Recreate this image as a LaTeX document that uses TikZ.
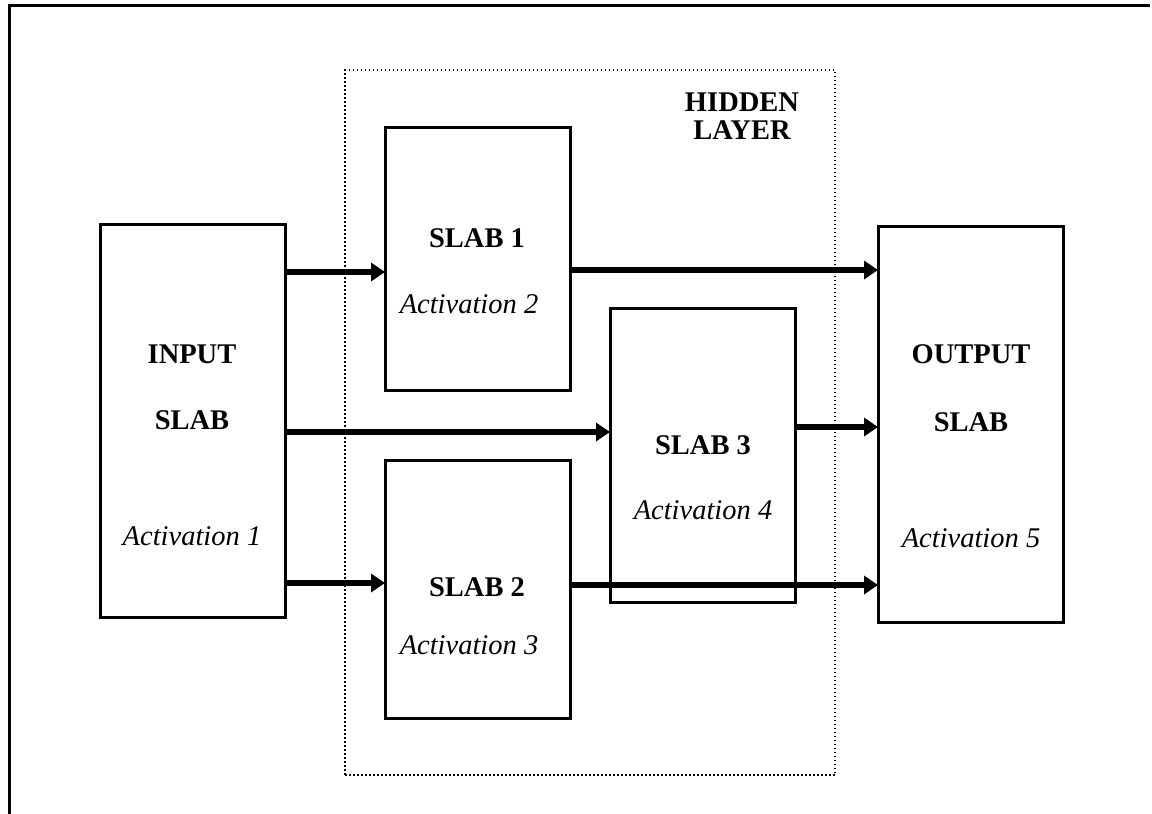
\documentclass[tikz,border=0pt]{standalone}
\usepackage{fontspec}
\setmainfont{Liberation Serif}
\usetikzlibrary{arrows.meta}
\begin{document}
\begin{tikzpicture}[x=1pt,y=-1pt,
  box/.style={draw,line width=3pt,rectangle,inner sep=0pt},
  arr/.style={line width=5.5pt,-{Triangle[length=14pt,width=18pt]},shorten >=-1.5pt},
  lbl/.style={font=\fontsize{28.5}{34}\selectfont\bfseries,inner sep=0pt},
  act/.style={font=\fontsize{28.5}{34}\selectfont\itshape,inner sep=0pt},
  hidden/.style={draw,line width=1.5pt,dash pattern=on 1.5pt off 2.5pt,rectangle,inner sep=0pt}]
\useasboundingbox (0,0) rectangle (1152,814);
% outer frame (top and left only)
\draw[line width=3pt] (9,814) -- (9,5) -- (1150,5);
% hidden layer
\node[hidden,minimum width=490pt,minimum height=705pt] (hl) at (590,422.5) {};
\node[lbl,align=center] (hlt) at (742,116) {HIDDEN\\[-6pt]LAYER};
% boxes
\node[box,minimum width=185pt,minimum height=393pt] (in) at (192.5,420.5) {};
\node[box,minimum width=185pt,minimum height=263pt] (s1) at (477.5,258.5) {};
\node[box,minimum width=185pt,minimum height=294pt] (s3) at (702.5,455) {};
\node[box,minimum width=185pt,minimum height=258pt] (s2) at (477.5,589) {};
\node[box,minimum width=185pt,minimum height=396pt] (out) at (970.5,424) {};
% texts
\node[lbl] (tin1) at (192,354) {INPUT};
\node[lbl] (tin2) at (192,420) {SLAB};
\node[act] (tin3) at (192,536) {Activation 1};
\node[lbl] (ts1) at (477,238) {SLAB 1};
\node[act] (ts1a) at (469,304) {Activation 2};
\node[lbl] (ts3) at (703,445) {SLAB 3};
\node[act] (ts3a) at (703,510) {Activation 4};
\node[lbl] (ts2) at (477,587) {SLAB 2};
\node[act] (ts2a) at (469,645) {Activation 3};
\node[lbl] (tout1) at (971,354) {OUTPUT};
\node[lbl] (tout2) at (971,422) {SLAB};
\node[act] (tout3) at (971,538) {Activation 5};
% connectors
\draw[arr] (in.east |- 0,272) -- (s1.west |- 0,272);
\draw[arr] (in.east |- 0,432) -- (s3.west |- 0,432);
\draw[arr] (in.east |- 0,583) -- (s2.west |- 0,583);
\draw[arr] (s1.east |- 0,270) -- (out.west |- 0,270);
\draw[arr] (s3.east |- 0,427) -- (out.west |- 0,427);
\draw[arr] (s2.east |- 0,585) -- (out.west |- 0,585);
\end{tikzpicture}
\end{document}
